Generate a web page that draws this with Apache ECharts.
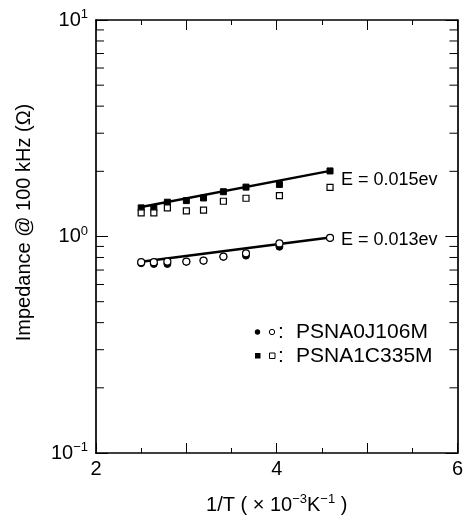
<!DOCTYPE html>
<html><head><meta charset="utf-8">
<script src="https://cdn.jsdelivr.net/npm/echarts@6/dist/echarts.min.js"></script>
<style>html,body{margin:0;padding:0;background:#fff}#c{width:466px;height:520px}</style>
</head><body><div id="c"></div>
<script>
// ---- data ----
const xInvT = [2.50, 2.64, 2.79, 3.00, 3.19, 3.41, 3.66, 4.03, 4.59];
const psna0jFilled = [0.753, 0.747, 0.747, 0.765, 0.773, 0.806, 0.816, 0.897, 0.984];
const psna0jOpen   = [0.761, 0.761, 0.766, 0.766, 0.774, 0.808, 0.836, 0.929, 0.986];
const psna1cFilled = [1.356, 1.356, 1.440, 1.465, 1.507, 1.610, 1.691, 1.740, 2.008];
const psna1cOpen   = [1.287, 1.287, 1.356, 1.314, 1.324, 1.455, 1.502, 1.544, 1.686];
const fitX = [2.50, 4.59];
const fit0J = [0.765, 0.99];
const fit1C = [1.37, 2.01];
const fitLabels = ['E = 0.013ev', 'E = 0.015ev'];
const seriesNames = ['PSNA0J106M', 'PSNA1C335M'];
const xMin = 2, xMax = 6;
const xTickLabels = [2, 4, 6];
const yTickValues = [0.1, 1, 10];
const yTickExponents = ['\u22121', '0', '1'];
const yMinorTicks = [0.2, 0.3, 0.4, 0.5, 0.6, 0.7, 0.8, 0.9, 2, 3, 4, 5, 6, 7, 8, 9];

const FONT = '"Liberation Sans", Arial, Helvetica, sans-serif';
const pts = (xs, ys) => xs.map((x, i) => [x, ys[i]]);

const chart = echarts.init(document.getElementById('c'), null, {renderer: 'canvas'});

const axisLine = {show: true, onZero: false, lineStyle: {color: '#000', width: 1.7}};
const xAxisBase = {
  type: 'value', min: xMin, max: xMax, interval: 1,
  axisLine: axisLine,
  axisTick: {show: true, inside: true, length: 10, lineStyle: {color: '#000', width: 1}},
  minorTick: {show: true, splitNumber: 2, length: 5, lineStyle: {color: '#000', width: 1}},
  splitLine: {show: false}, minorSplitLine: {show: false}
};
const yAxisBase = {
  type: 'log', logBase: 10, min: 0.1, max: 10, splitNumber: 2,
  axisLine: axisLine,
  axisTick: {show: true, inside: true, length: 12, lineStyle: {color: '#000', width: 1}},
  splitLine: {show: false}
};

const supRich = {
  b: {fontSize: 20, lineHeight: 24, fontFamily: FONT, color: '#000'},
  s: {fontSize: 13, lineHeight: 12, verticalAlign: 'top', fontFamily: FONT, color: '#000'}
};

chart.setOption({
  animation: false,
  backgroundColor: '#fff',
  grid: {left: 96, right: 7, top: 20, bottom: 62},
  xAxis: [
    Object.assign({}, xAxisBase, {
      position: 'bottom',
      name: '{b|1/T ( \u00d7 10}{s|\u22123}{b|K}{s|\u22121}{b| )}',
      nameLocation: 'middle', nameGap: 40, nameMoveOverlap: false,
      nameTextStyle: {rich: {
        b: {fontSize: 20, lineHeight: 24, fontFamily: FONT, color: '#000'},
        s: {fontSize: 13, lineHeight: 12, verticalAlign: 'top', fontFamily: FONT, color: '#000'}
      }},
      axisLabel: {
        show: true, margin: 6, color: '#000', fontSize: 20, fontFamily: FONT,
        formatter: v => (xTickLabels.indexOf(v) >= 0 ? String(v) : '')
      }
    }),
    Object.assign({}, xAxisBase, {position: 'top', axisLabel: {show: false}})
  ],
  yAxis: [
    Object.assign({}, yAxisBase, {
      position: 'left',
      name: 'Impedance @ 100 kHz (\u03a9)',
      nameLocation: 'middle', nameGap: 62, nameMoveOverlap: false,
      nameTextStyle: {fontSize: 20, fontFamily: FONT, color: '#000', padding: [0, 0, 0, 28]},
      axisLabel: {
        show: true, margin: 8, rich: supRich,
        formatter: function (v) {
          const i = yTickValues.findIndex(t => Math.abs(t - v) / t < 1e-6);
          return i < 0 ? '' : '{b|10}{s|' + yTickExponents[i] + '}';
        }
      }
    }),
    Object.assign({}, yAxisBase, {position: 'right', axisLabel: {show: false}})
  ],
  series: [
    {
      type: 'custom', silent: true, z: 1, clip: false,
      data: yMinorTicks.map(v => [xMin, v]),
      renderItem: function (params, api) {
        const cs = params.coordSys;
        const y = api.coord([api.value(0), api.value(1)])[1];
        const st = {stroke: '#000', lineWidth: 1};
        return {type: 'group', children: [
          {type: 'line', shape: {x1: cs.x, y1: y, x2: cs.x + 8, y2: y}, style: st},
          {type: 'line', shape: {x1: cs.x + cs.width - 8, y1: y, x2: cs.x + cs.width, y2: y}, style: st}
        ]};
      }
    },
    {
      type: 'line', name: 'fit0J', data: pts(fitX, fit0J), showSymbol: false, symbol: 'none', z: 2,
      lineStyle: {color: '#000', width: 2.5},
      endLabel: {show: true, formatter: fitLabels[0], distance: 11, offset: [0, 3],
        color: '#000', fontSize: 18, fontFamily: FONT}
    },
    {
      type: 'line', name: 'fit1C', data: pts(fitX, fit1C), showSymbol: false, symbol: 'none', z: 2,
      lineStyle: {color: '#000', width: 2.5},
      endLabel: {show: true, formatter: fitLabels[1], distance: 11, offset: [0, 9],
        color: '#000', fontSize: 18, fontFamily: FONT}
    },
    {
      type: 'scatter', name: seriesNames[0] + ' filled', data: pts(xInvT, psna0jFilled), z: 3,
      symbol: 'circle', symbolSize: 7, itemStyle: {color: '#000', borderColor: '#000', borderWidth: 1, opacity: 1}
    },
    {
      type: 'scatter', name: seriesNames[1] + ' filled', data: pts(xInvT, psna1cFilled), z: 3,
      symbol: 'rect', symbolSize: 6, itemStyle: {color: '#000', borderColor: '#000', borderWidth: 1, opacity: 1}
    },
    {
      type: 'scatter', name: seriesNames[0] + ' open', data: pts(xInvT, psna0jOpen), z: 4,
      symbol: 'circle', symbolSize: 7, itemStyle: {color: '#fff', borderColor: '#000', borderWidth: 1.2, opacity: 1}
    },
    {
      type: 'scatter', name: seriesNames[1] + ' open', data: pts(xInvT, psna1cOpen), z: 4,
      symbol: 'rect', symbolSize: 6, itemStyle: {color: '#fff', borderColor: '#000', borderWidth: 1.2, opacity: 1}
    }
  ],
  graphic: [
    {type: 'circle', shape: {cx: 257.5, cy: 332, r: 2.7}, style: {fill: '#000'}},
    {type: 'circle', shape: {cx: 272, cy: 332, r: 2.7}, style: {fill: '#fff', stroke: '#000', lineWidth: 1}},
    {type: 'text', x: 278, y: 332, style: {text: ':', fill: '#000', font: '21px ' + FONT, verticalAlign: 'middle', textVerticalAlign: 'middle'}},
    {type: 'text', x: 296, y: 332, style: {text: seriesNames[0], fill: '#000', font: '21px ' + FONT, verticalAlign: 'middle', textVerticalAlign: 'middle'}},
    {type: 'rect', shape: {x: 255, y: 353, width: 5.5, height: 5.5}, style: {fill: '#000'}},
    {type: 'rect', shape: {x: 269.5, y: 353, width: 5.5, height: 5.5}, style: {fill: '#fff', stroke: '#000', lineWidth: 1}},
    {type: 'text', x: 278, y: 356, style: {text: ':', fill: '#000', font: '21px ' + FONT, verticalAlign: 'middle', textVerticalAlign: 'middle'}},
    {type: 'text', x: 296, y: 356, style: {text: seriesNames[1], fill: '#000', font: '21px ' + FONT, verticalAlign: 'middle', textVerticalAlign: 'middle'}}
  ]
});
</script>
</body></html>
